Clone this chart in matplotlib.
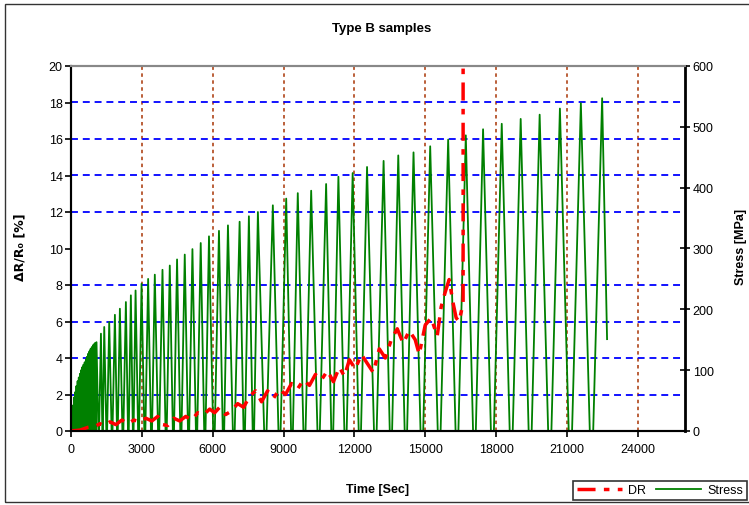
import numpy as np
import matplotlib
matplotlib.use("Agg")
import matplotlib.pyplot as plt
from matplotlib.lines import Line2D
from matplotlib.patches import Rectangle
from matplotlib.ticker import MultipleLocator

plt.rcParams['font.family'] = ['Liberation Sans Narrow', 'Liberation Sans', 'DejaVu Sans']
plt.rcParams['lines.scale_dashes'] = False

# stress cycles: early dense loading (peaks, MPa) then slower cycles
dense_peak_t = [30, 80, 130, 180, 230, 280, 330, 380, 430, 480, 530, 580, 630,
                680, 730, 780, 830, 880, 930, 980, 1030, 1080]
dense_peak_s = [25, 42, 55, 64, 74, 82, 88, 94, 100, 105, 109, 113, 118,
                122, 127, 131, 135, 138, 141, 143, 145, 146]
cycle_peak_t = [1268, 1407, 1618, 1859, 2070, 2324, 2535, 2734, 2987, 3266, 3549,
                3874, 4183, 4491, 4817, 5142, 5493, 5843, 6266, 6646, 7140, 7533,
                7914, 8547, 9113, 9603, 10170, 10803, 11323, 11927, 12536, 13237,
                13858, 14504, 15210, 15971, 16718, 17449, 18240, 19042, 19845,
                20703, 21590, 22491]
cycle_peak_s = [160, 171, 179, 191, 201, 212, 223, 231, 242, 250, 257, 265, 272,
                282, 290, 299, 309, 320, 329, 338, 344, 353, 360, 371, 382, 391,
                395, 406, 418, 424, 434, 444, 453, 458, 468, 479, 486, 496, 505,
                513, 520, 530, 539, 547]
trough_s = 0
end_t, end_s = 22700, 151

# resistance change DR [%]
dr_t = [0, 380, 718, 1014, 1225, 1394, 1648, 1901, 2155, 2408, 2662, 2915, 3169,
        3422, 3676, 3887, 4098, 4352, 4605, 4859, 5112, 5366, 5619, 5873, 6084,
        6295, 6549, 6802, 7056, 7309, 7563, 7816, 8070, 8323, 8577, 8830, 9084,
        9337, 9591, 9844, 10098, 10351, 10605, 10858, 11112, 11365, 11577, 11788,
        12041, 12295, 12548, 12802, 13055, 13309, 13562, 13816, 14069, 14323,
        14576, 14745, 14999, 15252, 15506, 15675, 15844, 16013, 16182, 16309,
        16435, 16604, 16604]
dr_v = [0, 0.05, 0.2, 0.25, 0.4, 0.3, 0.5, 0.35, 0.6, 0.4, 0.6, 0.5, 0.7, 0.55,
        0.8, 0.35, 0.3, 0.7, 0.55, 0.8, 0.6, 1.0, 0.9, 1.2, 1.0, 1.3, 0.9, 1.1,
        1.5, 1.3, 1.9, 2.2, 1.6, 2.2, 1.8, 2.3, 2.0, 2.6, 2.3, 2.8, 2.5, 3.1, 2.8,
        3.3, 2.7, 3.5, 3.0, 3.9, 3.4, 4.2, 3.7, 3.2, 4.5, 4.0, 5.0, 5.6, 4.8, 5.5,
        5.0, 4.2, 5.8, 6.2, 5.2, 6.8, 7.6, 8.3, 7.0, 6.2, 6.0, 7.0, 25]

x_ticks = [0, 3000, 6000, 9000, 12000, 15000, 18000, 21000, 24000]

# build stress trace: peak, flat trough at zero between peaks
peak_t = dense_peak_t + cycle_peak_t
peak_s = dense_peak_s + cycle_peak_s
st_t = [0]
st_s = [0]
for i in range(len(peak_t)):
    st_t.append(peak_t[i])
    st_s.append(peak_s[i])
    if i < len(peak_t) - 1:
        mid = (peak_t[i] + peak_t[i + 1]) / 2
        half = 0.08 * (peak_t[i + 1] - peak_t[i])
        st_t += [mid - half, mid + half]
        st_s += [trough_s, trough_s]
st_t.append(end_t)
st_s.append(end_s)

W, H = 749, 506
fig = plt.figure(figsize=(W / 100, H / 100), dpi=100)
fig.patches.append(Rectangle((5 / W, 1 - 503 / H), 800 / W, 498 / H,
                             transform=fig.transFigure, fill=False,
                             edgecolor='#333333', linewidth=1.0))

ax = fig.add_axes([71 / W, 1 - 432 / H, 614 / W, 365 / H])
ax2 = ax.twinx()
ax.set_zorder(2)
ax2.set_zorder(1)
ax.patch.set_visible(False)
ax2.patch.set_facecolor('white')

ax2.plot(st_t, st_s, color='#008000', linewidth=1.3)
dr_line, = ax.plot(dr_t, dr_v, color='red', linewidth=2.5)
dr_line.set_dashes([13, 6, 4, 6])

ax.set_xlim(0, 26000)
ax.set_ylim(0, 20)
ax2.set_ylim(0, 600)
ax.set_xticks(x_ticks)
ax.set_yticks(np.arange(0, 21, 2))
ax2.set_yticks(np.arange(0, 601, 100))

# grid on the lower axes so it stays behind the curves
ax2.yaxis.set_minor_locator(MultipleLocator(60))
ax2.grid(which='minor', axis='y', color='#0000ff', linestyle=(0, (5, 3.5)), linewidth=1.3)
ax2.tick_params(axis='y', which='minor', length=0)
for xv in x_ticks[1:]:
    ax2.axvline(xv, color='#b5532a', linestyle=(0, (2.5, 2.5)), linewidth=1.3, zorder=0.5)

for a in (ax, ax2):
    for side in a.spines:
        a.spines[side].set_color('black')
        a.spines[side].set_linewidth(1.5)
    a.spines['top'].set_color('#888888')
ax.spines['right'].set_visible(False)
ax2.spines['right'].set_linewidth(2)

ax.tick_params(axis='y', direction='out', length=4, width=1.2, labelsize=9, pad=2)
ax.tick_params(axis='x', direction='out', length=4, width=1.2, labelsize=9, pad=5)
ax2.tick_params(axis='y', which='major', direction='inout', length=7, width=1.2,
                labelsize=9, pad=2)

fig.text(382 / W, 1 - 29 / H, 'Type B samples', ha='center', va='center',
         fontsize=9.5, fontweight='bold')
fig.text(20 / W, 1 - 247 / H, 'ΔR/R₀ [%]', rotation=90, ha='center', va='center',
         fontsize=9, fontweight='bold', family=['Liberation Sans Narrow', 'DejaVu Sans'])
fig.text(378 / W, 1 - 490 / H, 'Time [Sec]', ha='center', va='center',
         fontsize=9, fontweight='bold')
fig.text(741 / W, 1 - 247 / H, 'Stress [MPa]', rotation=90, ha='center', va='center',
         fontsize=9, fontweight='bold')

handles = [Line2D([], [], color='red', linewidth=2.5, dashes=[13, 6, 4, 6]),
           Line2D([], [], color='#008000', linewidth=1.3)]
leg = fig.legend(handles, ['DR', 'Stress'], loc='lower left',
                 bbox_to_anchor=(573 / W, 1 - 501 / H), ncol=2, frameon=True,
                 fancybox=False, edgecolor='black', fontsize=9, handlelength=3.6,
                 handletextpad=0.5, columnspacing=0.8, borderpad=0.3,
                 borderaxespad=0)
leg.get_frame().set_linewidth(1.2)

fig.savefig('out.png', dpi=100)
